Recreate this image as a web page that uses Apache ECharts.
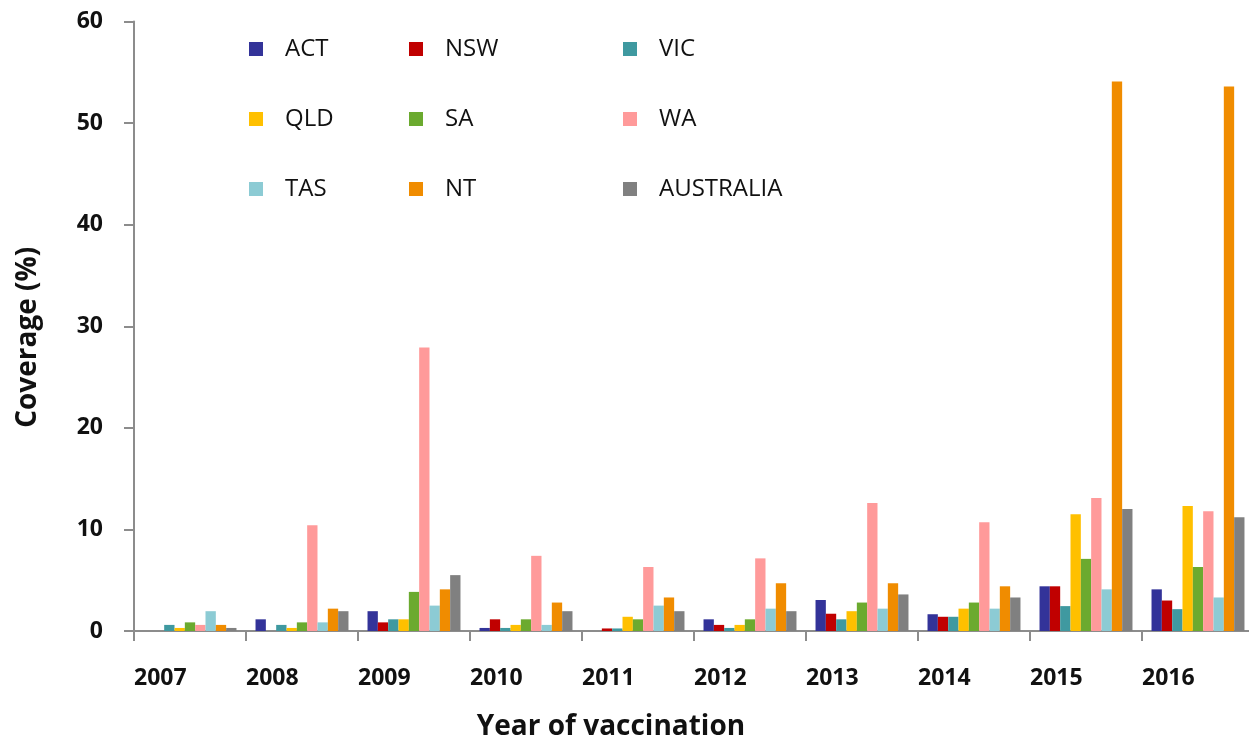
<!DOCTYPE html>
<html>
<head>
<meta charset="utf-8">
<script src="https://cdn.jsdelivr.net/npm/echarts@6/dist/echarts.min.js"></script>
<style>
html,body{margin:0;padding:0;background:#fff;}
#chart{width:1249px;height:738px;}
</style>
</head>
<body>
<div id="chart"></div>
<script>
const years = ['2007','2008','2009','2010','2011','2012','2013','2014','2015','2016'];
const ACT = [0, 1.15, 1.95, 0.3, 0, 1.15, 3.05, 1.65, 4.4, 4.1];
const NSW = [0, 0, 0.85, 1.15, 0.25, 0.6, 1.7, 1.4, 4.4, 3.0];
const VIC = [0.6, 0.6, 1.15, 0.3, 0.25, 0.3, 1.15, 1.4, 2.45, 2.15];
const QLD = [0.3, 0.3, 1.15, 0.6, 1.4, 0.6, 1.95, 2.2, 11.5, 12.3];
const SA  = [0.85, 0.85, 3.85, 1.15, 1.15, 1.15, 2.8, 2.8, 7.1, 6.3];
const WA  = [0.6, 10.4, 27.9, 7.4, 6.3, 7.15, 12.6, 10.7, 13.1, 11.8];
const TAS = [1.95, 0.85, 2.5, 0.6, 2.5, 2.2, 2.2, 2.2, 4.1, 3.3];
const NT  = [0.6, 2.2, 4.1, 2.8, 3.3, 4.7, 4.7, 4.4, 54.1, 53.6];
const AUSTRALIA = [0.3, 1.95, 5.5, 1.95, 1.95, 1.95, 3.6, 3.3, 12.0, 11.2];
const yTicks = [0, 10, 20, 30, 40, 50, 60];

const seriesNames = ['ACT','NSW','VIC','QLD','SA','WA','TAS','NT','AUSTRALIA'];
const seriesData = [ACT, NSW, VIC, QLD, SA, WA, TAS, NT, AUSTRALIA];
const colors = ['#333399','#C00000','#3F99A0','#FFC000','#6BAA2F','#FF9A9A','#8CCBD4','#F08C00','#808080'];

const FONT = "'Open Sans', 'Liberation Sans', sans-serif";
const axisColor = '#8c8c8c';

const chart = echarts.init(document.getElementById('chart'), null, {renderer:'canvas'});

function legendCol(names, left) {
  return {
    orient: 'vertical',
    left: left,
    top: 32,
    itemWidth: 14,
    itemHeight: 14,
    itemGap: 46,
    icon: 'rect',
    selectedMode: false,
    data: names,
    textStyle: {fontFamily: FONT, fontSize: 24, color: '#111', lineHeight: 24, padding: [0,0,0,17]}
  };
}

const option = {
  animation: false,
  backgroundColor: '#fff',
  color: colors,
  legend: [
    legendCol(['ACT','QLD','TAS'], 244),
    legendCol(['NSW','SA','NT'], 404),
    legendCol(['VIC','WA','AUSTRALIA'], 618)
  ],
  grid: {left: 134, top: 21.5, width: 1120, bottom: 107, containLabel: false, outerBoundsMode: 'none'},
  xAxis: [
    {
      type: 'category',
      data: years,
      boundaryGap: true,
      name: 'Year of vaccination',
      nameLocation: 'middle',
      nameGap: 82,
      nameTextStyle: {fontFamily: FONT, fontWeight: 'bold', fontSize: 28, color: '#111', padding: [0,166,0,0], lineHeight: 28},
      axisLine: {show: true, lineStyle: {color: axisColor, width: 2}},
      axisTick: {show: true, length: 10, lineStyle: {color: axisColor, width: 2}},
      axisLabel: {show: false}
    },
    {
      type: 'category',
      data: years.concat(['']),
      boundaryGap: false,
      position: 'bottom',
      axisLine: {show: false},
      axisTick: {show: false},
      axisLabel: {show: true, interval: 0, align: 'left', margin: 36, fontFamily: FONT, fontWeight: 'bold', fontSize: 23, color: '#111', lineHeight: 23}
    }
  ],
  yAxis: {
    type: 'value',
    min: yTicks[0],
    max: yTicks[yTicks.length-1],
    interval: 10,
    name: 'Coverage (%)',
    nameLocation: 'middle',
    nameGap: 92,
    nameTextStyle: {fontFamily: FONT, fontWeight: 'bold', fontSize: 28, color: '#111', padding: [0,22,0,0], lineHeight: 28},
    axisLine: {show: true, lineStyle: {color: axisColor, width: 2}},
    axisTick: {show: true, length: 10, lineStyle: {color: axisColor, width: 2}},
    splitLine: {show: false},
    axisLabel: {margin: 31, fontFamily: FONT, fontWeight: 'bold', fontSize: 23, color: '#111'}
  },
  series: seriesNames.map((n, i) => ({
    name: n,
    type: 'bar',
    xAxisIndex: 0,
    yAxisIndex: 0,
    data: seriesData[i],
    barGap: '0%',
    barCategoryGap: '17%',
    itemStyle: {color: colors[i]}
  }))
};
chart.setOption(option);
</script>
</body>
</html>
